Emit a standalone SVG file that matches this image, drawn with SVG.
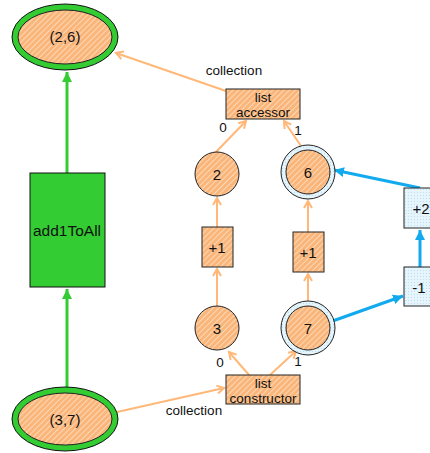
<svg xmlns="http://www.w3.org/2000/svg" width="430" height="453" viewBox="0 0 430 453">
<defs>
<pattern id="hatchO" width="4" height="4" patternUnits="userSpaceOnUse" patternTransform="rotate(45)">
<rect width="4" height="4" fill="#F9B57A"/>
<line x1="0" y1="0" x2="0" y2="4" stroke="#FFE2C4" stroke-width="1.6"/>
</pattern>
<pattern id="hatchB" width="3" height="3" patternUnits="userSpaceOnUse">
<rect width="3" height="3" fill="#E6F5FC"/>
<rect width="1" height="1" fill="#B9DFF2"/>
</pattern>
<marker id="aO" markerWidth="10" markerHeight="10" refX="8" refY="5" orient="auto" markerUnits="userSpaceOnUse">
<path d="M1,1 L8,5 L1,9" fill="none" stroke="#FFB878" stroke-width="2"/>
</marker>
<marker id="aG" markerWidth="12" markerHeight="12" refX="10" refY="6" orient="auto" markerUnits="userSpaceOnUse">
<path d="M0,1 L10,6 L0,11 Z" fill="#33CC33"/>
</marker>
<marker id="aB" markerWidth="12" markerHeight="12" refX="10" refY="6" orient="auto" markerUnits="userSpaceOnUse">
<path d="M0,1 L10,6 L0,11 Z" fill="#11AAEE"/>
</marker>
</defs>
<style>
text{font-family:"Liberation Sans",Arial,sans-serif;fill:#111;}
.t{font-size:15px;text-anchor:middle;}
.s{font-size:13.5px;text-anchor:middle;}
.o{stroke:#FFB878;stroke-width:2;fill:none;marker-end:url(#aO);}
.g{stroke:#33CC33;stroke-width:3;fill:none;marker-end:url(#aG);}
.b{stroke:#11AAEE;stroke-width:3;fill:none;marker-end:url(#aB);}
.node{fill:url(#hatchO);stroke:#222;stroke-width:1;}
.bnode{fill:url(#hatchB);stroke:#222;stroke-width:1;}
</style>
<rect width="430" height="453" fill="#fff"/>
<g id="connectors">
<line class="g" x1="67" y1="173" x2="67" y2="72"/>
<line class="g" x1="67" y1="387" x2="67" y2="289"/>
<line class="o" x1="226" y1="91" x2="116" y2="53"/>
<line class="o" x1="215" y1="153" x2="246" y2="121"/>
<line class="o" x1="301" y1="146" x2="284" y2="121"/>
<line class="o" x1="217" y1="227" x2="217" y2="198"/>
<line class="o" x1="217" y1="306" x2="217" y2="269"/>
<line class="o" x1="308" y1="232" x2="308" y2="201"/>
<line class="o" x1="308" y1="301" x2="308" y2="274"/>
<line class="o" x1="249" y1="375" x2="229" y2="352"/>
<line class="o" x1="270" y1="375" x2="296" y2="351"/>
<line class="o" x1="117" y1="412" x2="224" y2="388"/>
<line class="b" x1="420" y1="188" x2="334" y2="170"/>
<line class="b" x1="420" y1="267" x2="420" y2="230"/>
<line class="b" x1="327" y1="323" x2="403" y2="296"/>
</g>
<g id="n26">
<ellipse cx="65" cy="37" rx="53" ry="33" fill="#33CC33" stroke="#111" stroke-width="1"/>
<ellipse cx="65" cy="37" rx="47" ry="27" class="node"/>
<text class="t" x="65" y="42">(2,6)</text>
</g>
<g id="add1ToAll">
<rect x="30" y="173" width="75" height="114" fill="#33CC33" stroke="#111" stroke-width="1"/>
<text class="t" x="67" y="236" style="font-size:15.5px">add1ToAll</text>
</g>
<g id="n37">
<ellipse cx="65" cy="419" rx="53" ry="32" fill="#33CC33" stroke="#111" stroke-width="1"/>
<ellipse cx="65" cy="419" rx="47" ry="26" class="node"/>
<text class="t" x="65" y="425">(3,7)</text>
</g>
<g id="accessor">
<rect x="226" y="89" width="74" height="30" class="node"/>
<text class="s" x="263" y="102">list</text>
<text class="s" x="263" y="117">accessor</text>
</g>
<g id="constructor">
<rect x="226" y="375" width="74" height="29" class="node"/>
<text class="s" x="263" y="388">list</text>
<text class="s" x="263" y="403">constructor</text>
</g>
<g id="c2">
<circle cx="217" cy="174" r="22" class="node"/>
<text class="t" x="217" y="180">2</text>
</g>
<g id="c6">
<circle cx="308" cy="172" r="27" class="bnode"/>
<circle cx="308" cy="172" r="22" class="node"/>
<text class="t" x="308" y="178">6</text>
</g>
<g id="c3">
<circle cx="217" cy="328" r="22" class="node"/>
<text class="t" x="217" y="334">3</text>
</g>
<g id="c7">
<circle cx="308" cy="328" r="27" class="bnode"/>
<circle cx="308" cy="328" r="22" class="node"/>
<text class="t" x="308" y="334">7</text>
</g>
<g id="p1l">
<rect x="202" y="227" width="31" height="40" class="node"/>
<text class="t" x="217" y="253">+1</text>
</g>
<g id="p1r">
<rect x="293" y="232" width="31" height="40" class="node"/>
<text class="t" x="308" y="258">+1</text>
</g>
<g id="p2">
<rect x="404" y="188" width="34" height="40" class="bnode"/>
<text class="t" x="421" y="214">+2</text>
</g>
<g id="m1">
<rect x="404" y="267" width="34" height="39" class="bnode"/>
<text class="t" x="419" y="293">-1</text>
</g>
<g id="labels">
<text class="s" x="234" y="75">collection</text>
<text class="s" x="223" y="132">0</text>
<text class="s" x="298" y="135">1</text>
<text class="s" x="220" y="367">0</text>
<text class="s" x="298" y="366">1</text>
<text class="s" x="194" y="415">collection</text>
</g>
</svg>
